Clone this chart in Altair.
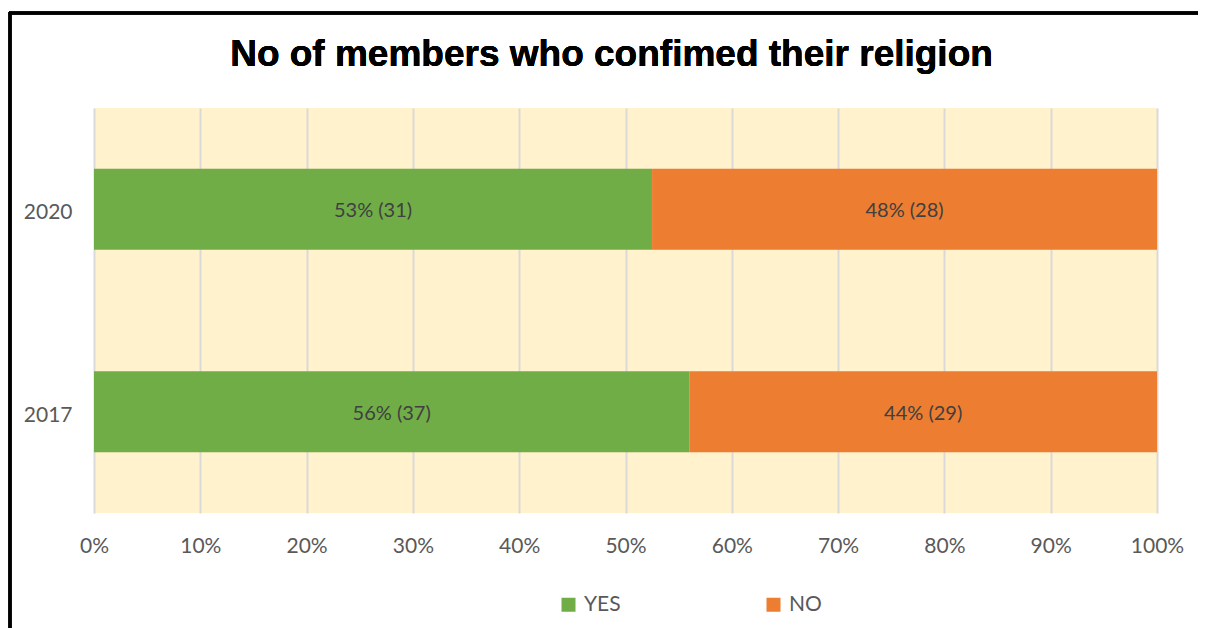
import altair as alt
import pandas as pd

years = ["2020", "2020", "2017", "2017"]
answers = ["YES", "NO", "YES", "NO"]
shares = [0.525, 0.475, 0.56, 0.44]
labels = ["53% (31)", "48% (28)", "56% (37)", "44% (29)"]
title_text = "No of members who confimed their religion"

df = pd.DataFrame({"year": years, "answer": answers, "share": shares, "label": labels})
df["end"] = df.groupby("year")["share"].cumsum()
df["start"] = df["end"] - df["share"]
df["mid"] = (df["start"] + df["end"]) / 2

FONT = "Lato"
GREY = "#595959"

y_enc = alt.Y("year:N", sort=["2020", "2017"], title=None,
              scale=alt.Scale(paddingInner=0.6, paddingOuter=0.3),
              axis=alt.Axis(labelFont=FONT, labelFontSize=21, labelColor=GREY,
                            labelPadding=22, labelOffset=4, ticks=False, domain=False))

bars = alt.Chart(df).mark_bar().encode(
    x=alt.X("start:Q", title=None,
            scale=alt.Scale(domain=[0, 1], nice=False),
            axis=alt.Axis(format=".0%", values=[i / 10 for i in range(11)],
                          labelFont=FONT, labelFontSize=21, labelColor=GREY,
                          labelPadding=22, labelFlush=False, labelBound=False,
                          ticks=False, domain=False,
                          grid=True, gridColor="#D9D9D9", gridWidth=2)),
    x2="end:Q",
    y=y_enc,
    color=alt.Color("answer:N", sort=["YES", "NO"], title=None,
                    scale=alt.Scale(domain=["YES", "NO"], range=["#70AD47", "#ED7D31"]),
                    legend=alt.Legend(orient="none", legendX=464, legendY=486,
                                      direction="horizontal", symbolType="square",
                                      symbolSize=196, symbolStrokeWidth=0,
                                      labelFont=FONT, labelFontSize=21, labelColor=GREY,
                                      labelOffset=5, columnPadding=142)),
)

text = alt.Chart(df).mark_text(font=FONT, fontSize=20, color="#404040", dy=2).encode(
    x="mid:Q",
    y=alt.Y("year:N", sort=["2020", "2017"]),
    text="label:N",
)

title = alt.Chart(df).mark_text(font="Liberation Sans", fontSize=37, fontWeight="bold",
                                color="black", align="center", baseline="alphabetic",
                                clip=False).encode(
    x=alt.value(517.5), y=alt.value(-42), text=alt.value(title_text))

border_top = alt.Chart(df).mark_rule(color="black", strokeWidth=3, clip=False).encode(
    x=alt.value(-85), x2=alt.value(1140), y=alt.value(-95))
border_left = alt.Chart(df).mark_rule(color="black", strokeWidth=3, clip=False).encode(
    x=alt.value(-84), y=alt.value(-96), y2=alt.value(540))

chart = alt.layer(bars, text, title, border_top, border_left).properties(
    width=1063, height=405,
    autosize=alt.AutoSizeParams(type="none"),
    padding={"left": 86, "top": 100, "right": 41, "bottom": 115},
).configure_view(fill="#FFF2CC", stroke=None)

chart.save("out.html", embed_options={"renderer": "svg", "actions": False})
